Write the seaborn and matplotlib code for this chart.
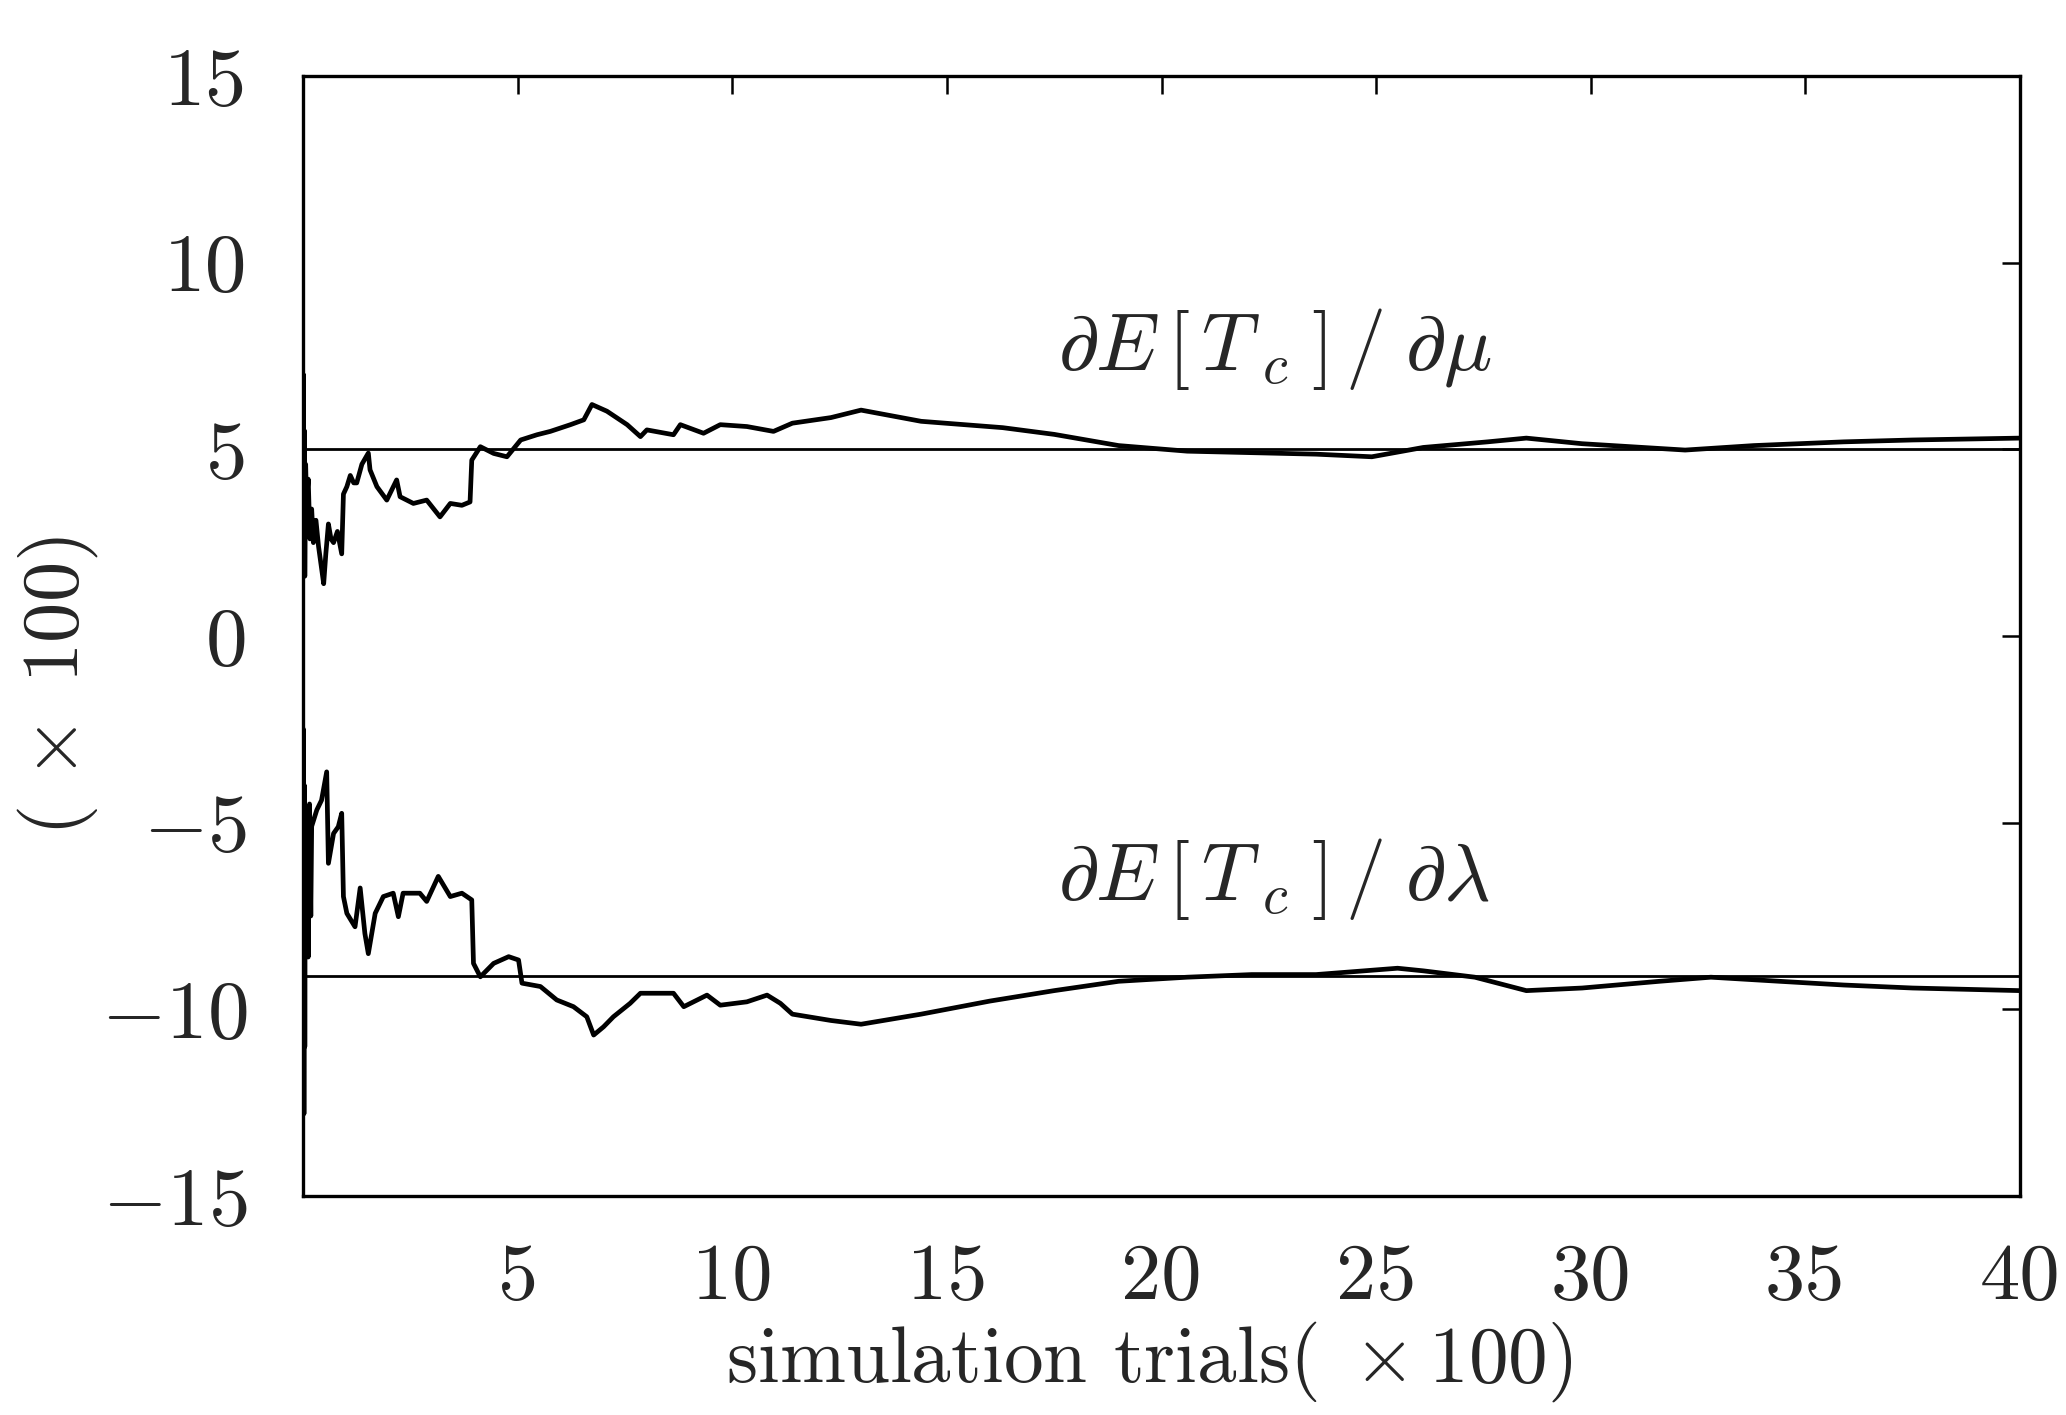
import matplotlib
matplotlib.use("Agg")
import matplotlib.pyplot as plt
import seaborn as sns
import pandas as pd

# ---- data ----
mu_t = [0.0, 0.01, 0.02, 0.03, 0.04, 0.06, 0.08, 0.12, 0.16, 0.20, 0.24, 0.30, 0.36, 0.42, 0.48,
        0.53, 0.59, 0.65, 0.71, 0.80, 0.90, 0.94, 1.02, 1.10, 1.18, 1.25, 1.37, 1.52, 1.56, 1.72,
        1.95, 2.18, 2.26, 2.57, 2.88, 3.19, 3.43, 3.70, 3.89, 3.93, 4.13, 4.44, 4.75, 5.07, 5.45,
        5.76, 6.23, 6.54, 6.73, 7.08, 7.55, 7.86, 8.01, 8.63, 8.79, 9.33, 9.72, 10.34, 10.96,
        11.4, 12.3, 13.0, 14.4, 16.3, 17.5, 19.0, 20.6, 23.6, 24.9, 26.1, 27.6, 28.5, 29.8,
        32.2, 33.8, 35.9, 37.5, 40.0]
mu_v = [5.0, 7.0, 2.0, 5.5, 1.6, 4.6, 3.6, 4.2, 2.6, 3.4, 2.5, 3.1, 2.4, 1.9, 1.4,
        2.2, 3.0, 2.6, 2.5, 2.8, 2.2, 3.8, 4.0, 4.3, 4.1, 4.1, 4.6, 4.9, 4.45, 4.0,
        3.64, 4.18, 3.73, 3.55, 3.64, 3.19, 3.55, 3.5, 3.59, 4.71, 5.07, 4.89, 4.8, 5.25, 5.39,
        5.48, 5.66, 5.79, 6.2, 6.02, 5.66, 5.34, 5.52, 5.39, 5.66, 5.43, 5.66, 5.61, 5.48,
        5.7, 5.85, 6.05, 5.75, 5.58, 5.4, 5.1, 4.95, 4.87, 4.8, 5.05, 5.2, 5.3, 5.15,
        4.98, 5.1, 5.2, 5.25, 5.3]

lam_t = [0.0, 0.01, 0.02, 0.03, 0.04, 0.05, 0.07, 0.10, 0.12, 0.15, 0.18, 0.20, 0.32, 0.43, 0.55,
         0.59, 0.71, 0.82, 0.90, 0.94, 1.02, 1.21, 1.33, 1.44, 1.52, 1.68, 1.87, 2.10, 2.22, 2.33,
         2.72, 2.88, 3.15, 3.43, 3.70, 3.93, 3.97, 4.13, 4.44, 4.79, 5.02, 5.10, 5.53, 5.91, 6.30,
         6.61, 6.77, 7.00, 7.23, 7.62, 7.86, 8.24, 8.63, 8.87, 9.41, 9.72, 10.34, 10.81, 11.12,
         11.4, 12.3, 13.0, 14.4, 16.0, 17.5, 19.0, 20.6, 22.1, 23.6, 25.5, 26.1, 27.3, 28.5,
         29.8, 31.6, 32.8, 34.4, 35.9, 37.5, 40.0]
lam_v = [-9.1, -2.5, -12.8, -4.0, -11.0, -6.0, -8.5, -6.5, -8.6, -4.5, -7.5, -5.1, -4.66, -4.4, -3.64,
         -6.09, -5.29, -5.11, -4.75, -6.98, -7.43, -7.79, -6.75, -7.97, -8.51, -7.43, -6.98, -6.89, -7.52, -6.89,
         -6.89, -7.11, -6.44, -6.98, -6.89, -7.07, -8.77, -9.13, -8.77, -8.59, -8.68, -9.3, -9.39, -9.75, -9.93,
         -10.2, -10.69, -10.47, -10.2, -9.84, -9.57, -9.57, -9.57, -9.93, -9.62, -9.89, -9.8, -9.62, -9.84,
         -10.13, -10.3, -10.4, -10.13, -9.78, -9.5, -9.25, -9.14, -9.07, -9.07, -8.9, -8.97, -9.14, -9.5,
         -9.43, -9.25, -9.14, -9.25, -9.35, -9.43, -9.5]

mu_true = 5.0
lam_true = -9.1

xticks = [5, 10, 15, 20, 25, 30, 35, 40]
xtick_labels = ["5", "10", "15", "20", "25", "30", "35", "40"]
yticks = [-15, -10, -5, 0, 5, 10, 15]
ytick_labels = [r"$-{}15$", r"$-{}10$", r"$-{}5$", "0", "5", "10", "15"]

label_mu = r"$\partial E\,[\,T_{\;c}\;]\,/\;\partial\mu$"
label_lam = r"$\partial E\,[\,T_{\;c}\;]\,/\;\partial\lambda$"
xlabel = r"simulation trials$(\;\times 100)$"
ylabel = r"$(\,\times\;100)$"

# ---- style ----
sns.set_style("white")
plt.rcParams["font.family"] = ["cmr10", "DejaVu Serif"]
plt.rcParams["mathtext.fontset"] = "cm"
plt.rcParams["axes.unicode_minus"] = False

fig = plt.figure(figsize=(20.66, 14.15), dpi=100)
ax = fig.add_axes([0.1467, 0.1548, 0.8310, 0.7915])

df = pd.concat([
    pd.DataFrame({"t": mu_t, "v": mu_v, "s": "mu"}),
    pd.DataFrame({"t": lam_t, "v": lam_v, "s": "lam"}),
])
sns.lineplot(data=df, x="t", y="v", units="s", estimator=None, sort=False,
             color="black", linewidth=3.4, ax=ax, legend=False)

ax.axhline(mu_true, color="black", linewidth=2.0)
ax.axhline(lam_true, color="black", linewidth=2.0)

ax.set_xlim(0, 40)
ax.set_ylim(-15, 15)
ax.set_xticks(xticks)
ax.set_xticklabels(xtick_labels)
ax.set_yticks(yticks)
ax.set_yticklabels(ytick_labels)

ax.tick_params(axis="both", direction="in", length=13, width=1.8,
               top=True, right=True, color="black")
ax.tick_params(axis="x", pad=34, labelsize=58)
ax.tick_params(axis="y", pad=40, labelsize=60)

for sp in ax.spines.values():
    sp.set_color("black")
    sp.set_linewidth(2.4)

ax.set_xlabel(xlabel, fontsize=57)
ax.set_ylabel(ylabel, fontsize=58)
ax.xaxis.set_label_coords(0.493, -0.11)
ax.yaxis.set_label_coords(-0.118, 0.455)

ax.text(17.6, 7.7, label_mu, fontsize=58, ha="left", va="center")
ax.text(17.6, -6.5, label_lam, fontsize=58, ha="left", va="center")

fig.savefig("out.png", dpi=100, facecolor="white")
